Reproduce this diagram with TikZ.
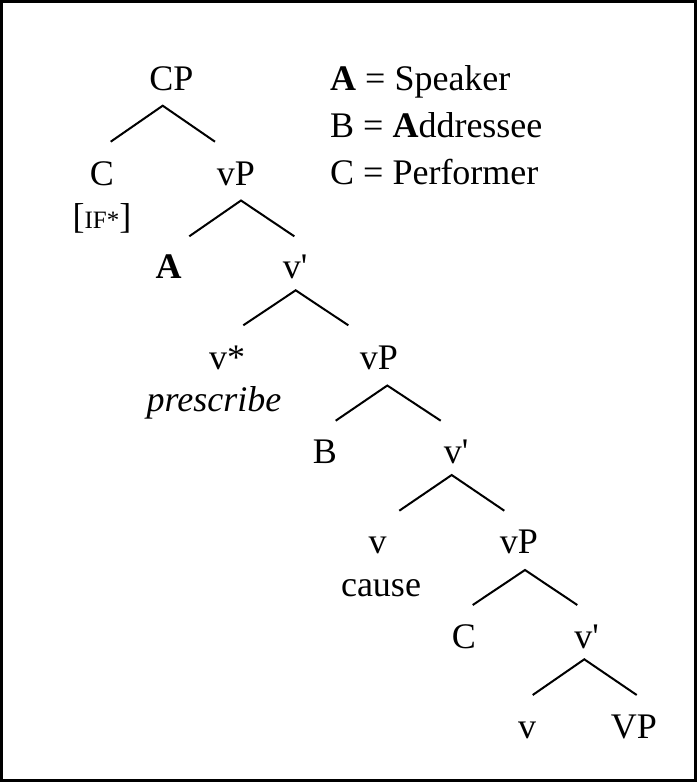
\documentclass[tikz,border=0pt]{standalone}
\usepackage{fontspec}
\setmainfont{Liberation Serif}
\begin{document}
\begin{tikzpicture}[x=1pt,y=-1pt,
  lbl/.style={inner sep=0pt,anchor=base,font=\fontsize{36}{43}\selectfont},
  leg/.style={inner sep=0pt,anchor=base west,font=\fontsize{36}{43}\selectfont},
  branch/.style={line width=2pt,line join=miter}]
\useasboundingbox (0,0) rectangle (697,782);
\draw[line width=3.2pt] (1.6,1.6) rectangle (695.4,780.4);
% legend
\node[leg] (legA) at (330,90) {\textbf{A} = Speaker};
\node[leg] (legB) at (330,137) {B = \textbf{A}ddressee};
\node[leg] (legC) at (330,184) {C = Performer};
% tree nodes
\node[lbl] (cp) at (171.5,90) {CP};
\node[lbl] (c1) at (102,185) {C};
\node[lbl] (if) at (102,228) {[{\fontsize{25}{30}\selectfont IF*}]};
\node[lbl] (vp1) at (236,185) {vP};
\node[lbl] (a) at (168.7,278) {\textbf{A}};
\node[lbl] (vb1) at (295,278) {v\textquotesingle};
\node[lbl] (vstar) at (227,369.5) {v*};
\node[lbl] (presc) at (214,411.5) {\itshape prescribe};
\node[lbl] (vp2) at (379,369.5) {vP};
\node[lbl] (b) at (325,463) {B};
\node[lbl] (vb2) at (456,463) {v\textquotesingle};
\node[lbl] (v1) at (377.5,553.3) {v};
\node[lbl] (cause) at (381,596.7) {cause};
\node[lbl] (vp3) at (519,553.3) {vP};
\node[lbl] (c2) at (464,648.3) {C};
\node[lbl] (vb3) at (586.5,648.3) {v\textquotesingle};
\node[lbl] (v2) at (527,738.3) {v};
\node[lbl] (vpbig) at (634,738.3) {VP};
% branch points
\coordinate (cpT) at (162.7,105.7); \coordinate (cpL) at (110.7,141.7); \coordinate (cpR) at (215,141.7);
\coordinate (vp1T) at (241,200.5); \coordinate (vp1L) at (189.3,236.3); \coordinate (vp1R) at (294.3,236.3);
\coordinate (vb1T) at (295.7,290.3); \coordinate (vb1L) at (243.3,325.3); \coordinate (vb1R) at (348.3,325.3);
\coordinate (vp2T) at (387.3,385.5); \coordinate (vp2L) at (335.7,420.7); \coordinate (vp2R) at (440.7,420.7);
\coordinate (vb2T) at (451.7,475); \coordinate (vb2L) at (399.3,510.7); \coordinate (vb2R) at (504.3,510.7);
\coordinate (vp3T) at (525,570); \coordinate (vp3L) at (472.7,605); \coordinate (vp3R) at (577.3,605);
\coordinate (vb3T) at (584.3,659.3); \coordinate (vb3L) at (532.7,695); \coordinate (vb3R) at (636.7,695);
\draw[branch] (cpL) -- (cpT) -- (cpR);
\draw[branch] (vp1L) -- (vp1T) -- (vp1R);
\draw[branch] (vb1L) -- (vb1T) -- (vb1R);
\draw[branch] (vp2L) -- (vp2T) -- (vp2R);
\draw[branch] (vb2L) -- (vb2T) -- (vb2R);
\draw[branch] (vp3L) -- (vp3T) -- (vp3R);
\draw[branch] (vb3L) -- (vb3T) -- (vb3R);
\end{tikzpicture}
\end{document}
